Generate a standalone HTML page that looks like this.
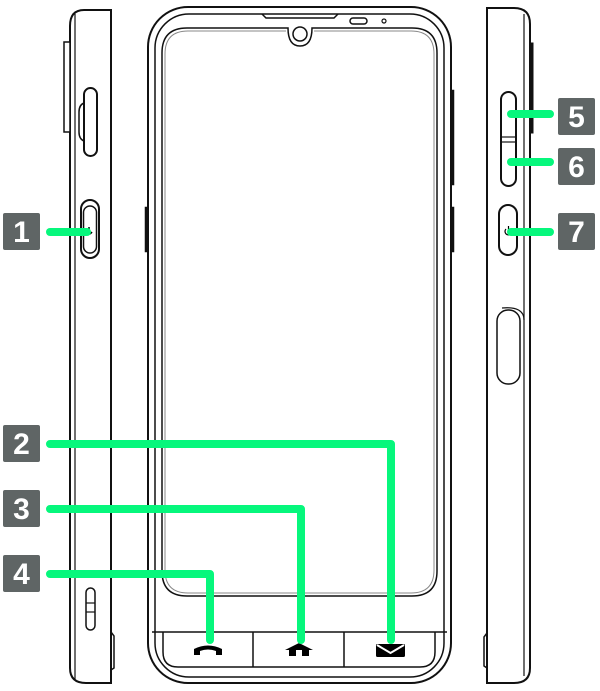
<!DOCTYPE html>
<html><head><meta charset="utf-8"><style>
html,body{margin:0;padding:0;background:#fff;width:600px;height:691px;overflow:hidden}
svg{display:block}
.lbl{font-family:"Liberation Sans",sans-serif;font-weight:bold;font-size:30px;fill:#fff}
</style></head><body>
<svg width="600" height="691" viewBox="0 0 600 691" xmlns="http://www.w3.org/2000/svg">
<g fill="none" stroke="#111" stroke-width="2">
<!-- left side phone -->
<path d="M111 10 L84 10 Q70 10 70 26 L70 668 Q70 683 86 683 L111 683 Z"/>
<line x1="75" y1="14" x2="75" y2="679" stroke-width="1.2"/>
<rect x="64" y="42" width="6" height="90" fill="#fff" stroke-width="1.5"/>
<rect x="84" y="88" width="13" height="68" rx="6.5"/>
<path d="M84 103 Q79 105 79 112 L79 132 Q79 139 84 141" stroke-width="1.5"/>
<rect x="81" y="200" width="18" height="58" rx="9"/>
<rect x="83.5" y="206" width="13" height="47" rx="6.5" stroke-width="1.5"/>
<rect x="86" y="588" width="9" height="42" rx="4.5" stroke-width="1.5"/>
<line x1="86" y1="603" x2="95" y2="603" stroke-width="1.2"/><line x1="86" y1="612" x2="95" y2="612" stroke-width="1.2"/>
<path d="M111 632 L114 636 L114 668 L111 670" stroke-width="1.5"/>
<!-- right side phone -->
<path d="M487 8 L514 8 Q530 8 530 24 L530 668 Q530 683 514 683 L487 683 Z"/>
<line x1="524" y1="14" x2="524" y2="676" stroke-width="1.2"/>
<rect x="530" y="43" width="3" height="90" fill="#111" stroke-width="1"/>
<rect x="501" y="92" width="15" height="94" rx="7.5"/>
<line x1="501" y1="137" x2="516" y2="137" stroke-width="1.2"/><line x1="501" y1="142" x2="516" y2="142" stroke-width="1.2"/>
<rect x="499" y="205" width="18" height="50" rx="9"/>
<rect x="497" y="310" width="23" height="74" rx="11" stroke-width="1.5"/>
<path d="M502 308 Q524 306 524 320" stroke-width="1.2"/>
<path d="M487 633 L484 637 L484 666 L487 668" stroke-width="1.5"/>
<!-- front phone -->
<rect x="148" y="7" width="303" height="676" rx="40"/>
<rect x="155" y="14" width="289" height="663" rx="34" stroke-width="1.5"/>
<path d="M262 14 L266 18 L334 18 L338 14" stroke-width="1.5"/>
<path d="M187 28 L288 28 Q288 46 300 46 Q312 46 312 28 L412 28 Q437 28 437 53 L437 571 Q437 596 412 596 L187 596 Q162 596 162 571 L162 53 Q162 28 187 28 Z" stroke-width="1.5"/>
<path d="M188 31 L286 31 M314 31 L411 31 Q434 31 434 54 L434 570 Q434 593 411 593 L188 593 Q165 593 165 570 L165 54 Q165 31 188 31" stroke="#888" stroke-width="1"/>
<circle cx="300" cy="34" r="7" stroke-width="1.5"/>
<rect x="350" y="18" width="17" height="6" rx="3" stroke-width="1.5"/>
<circle cx="384" cy="21" r="2" stroke-width="1.2"/>
<line x1="152" y1="632" x2="447" y2="632" stroke-width="1.5"/>
<path d="M163 632 L163 652 Q163 667 178 667 L420 667 Q435 667 435 652 L435 632" stroke-width="1.5"/>
<line x1="253" y1="632" x2="253" y2="667" stroke-width="1.5"/>
<line x1="344" y1="632" x2="344" y2="667" stroke-width="1.5"/>
<rect x="451" y="90" width="3" height="95" fill="#111" stroke-width="0.5"/>
<rect x="451" y="207" width="3" height="45" fill="#111" stroke-width="0.5"/>
<rect x="145" y="207" width="3" height="45" fill="#111" stroke-width="0.5"/>
</g>
<!-- icons -->
<path d="M194 655 L194 649 Q208 642 222 649 L222 655 L216 655 L216 651 Q208 648 200 651 L200 655 Z" fill="#000"/>
<path d="M299 643 L285 650 L289 650 L289 656 L309 656 L309 650 L313 650 Z" fill="#000"/>
<rect x="296" y="650" width="6" height="6" fill="#fff"/>
<rect x="376" y="644" width="29" height="13" rx="1.5" fill="#000"/>
<path d="M377 645 L390.5 653 L404 645" fill="none" stroke="#fff" stroke-width="2"/>
<path d="M89 227 v7 M86 232 q3 4 6 0" stroke="#000" stroke-width="1.5" fill="none"/>
<path d="M508 115 l3 -5 l3 5 Z" fill="#000"/>
<path d="M508 161 l3 5 l3 -5 Z" fill="#000"/>
<path d="M506 229 a3.5 3.5 0 1 0 5 0 M508.5 226 v5" stroke="#000" stroke-width="1.2" fill="none"/>
<!-- green leaders -->
<g fill="none" stroke="#06f77c" stroke-width="8" stroke-linecap="round" stroke-linejoin="round">
<line x1="50" y1="232" x2="87" y2="232"/>
<line x1="511" y1="114" x2="550" y2="114"/>
<line x1="511" y1="162" x2="550" y2="162"/>
<line x1="511" y1="232" x2="550" y2="232"/>
<polyline points="50,444 391,444 391,640"/>
<polyline points="50,509 301,509 301,640"/>
<polyline points="50,574 210,574 210,640"/>
</g>
<!-- label boxes -->
<g fill="#5f6565">
<rect x="3" y="213" width="37" height="37" rx="2"/>
<rect x="558" y="98" width="37" height="37" rx="2"/>
<rect x="558" y="148" width="37" height="37" rx="2"/>
<rect x="558" y="213" width="37" height="37" rx="2"/>
<rect x="3" y="425" width="37" height="37" rx="2"/>
<rect x="3" y="490" width="37" height="37" rx="2"/>
<rect x="3" y="555" width="37" height="37" rx="2"/>
</g>
<g class="lbl" text-anchor="middle">
<text x="21.5" y="242">1</text>
<text x="576.5" y="127">5</text>
<text x="576.5" y="177">6</text>
<text x="576.5" y="242">7</text>
<text x="21.5" y="454">2</text>
<text x="21.5" y="519">3</text>
<text x="21.5" y="584">4</text>
</g>
</svg>
</body></html>
